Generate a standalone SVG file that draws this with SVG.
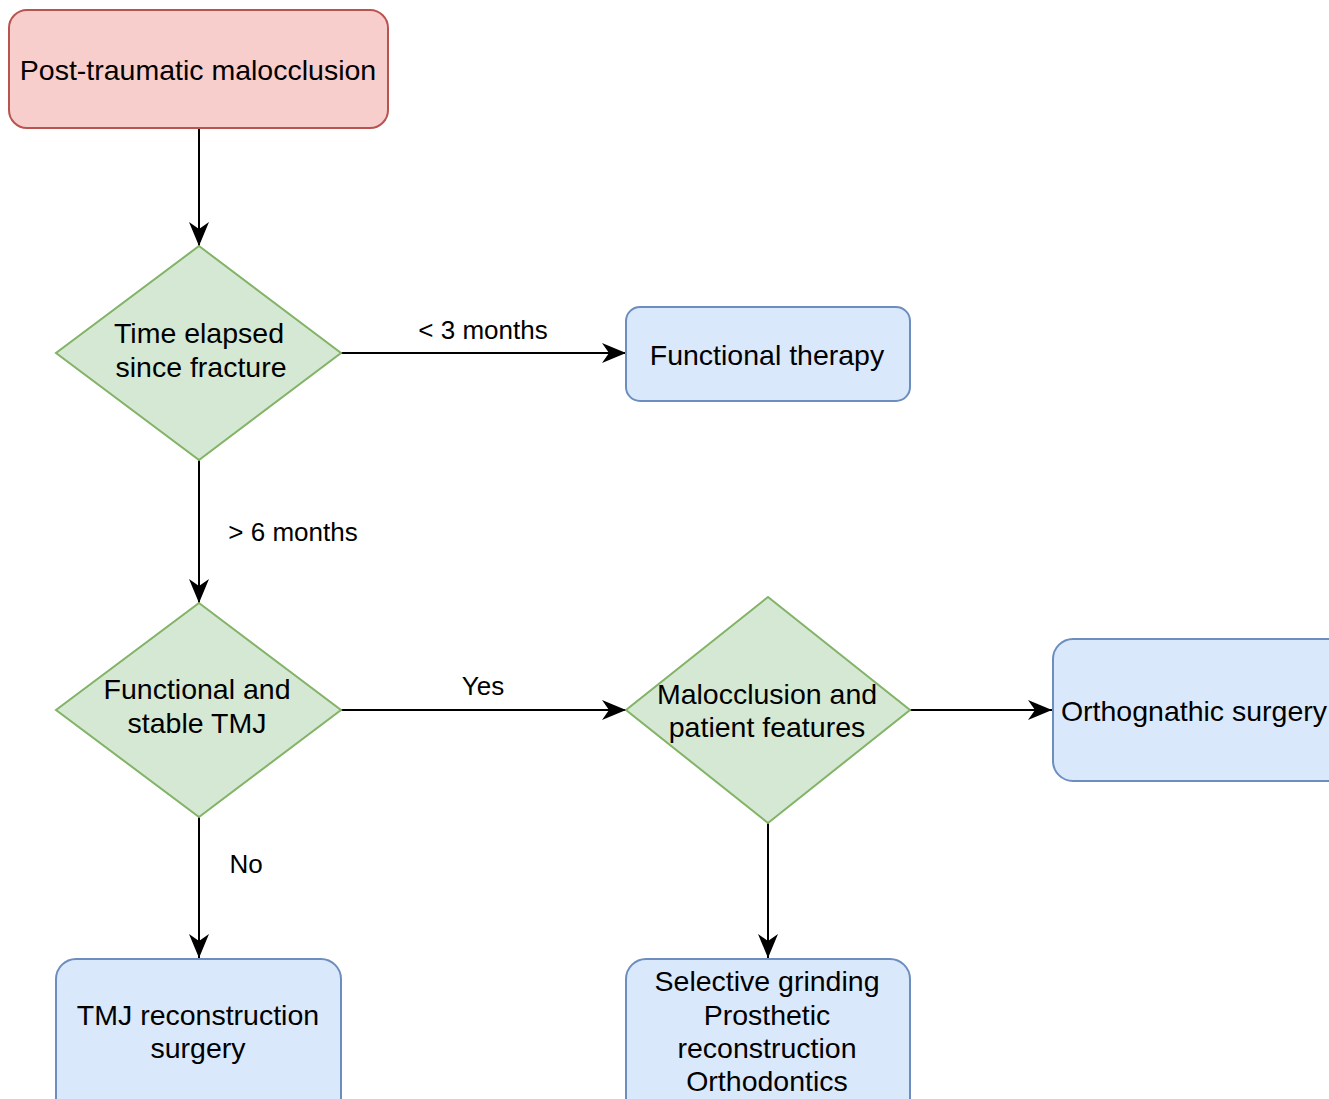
<svg xmlns="http://www.w3.org/2000/svg" width="1329" height="1099" viewBox="0 0 1329 1099">
<defs>
<style>
.red{fill:#f8cecc;stroke:#b85450;stroke-width:2}
.blue{fill:#dae8fc;stroke:#6c8ebf;stroke-width:2}
.green{fill:#d5e8d4;stroke:#82b366;stroke-width:2}
text{font-family:"Liberation Sans",Arial,sans-serif;font-size:28.5px;fill:#000;text-anchor:middle;dominant-baseline:central}
text.lbl{font-size:26px}
.edge{stroke:#000;stroke-width:2;fill:none}
</style>
<marker id="arr" viewBox="0 0 24 20" refX="24" refY="10" markerWidth="24" markerHeight="20" markerUnits="userSpaceOnUse" orient="auto">
<path d="M0,0 L24,10 L0,20 L7,10 Z" fill="#000"/>
</marker>
</defs>
<rect width="1329" height="1099" fill="#fff"/>
<g id="edges">
<line class="edge" x1="199" y1="128" x2="199" y2="246" marker-end="url(#arr)"/>
<line class="edge" x1="341" y1="353" x2="626" y2="353" marker-end="url(#arr)"/>
<line class="edge" x1="199" y1="460" x2="199" y2="603" marker-end="url(#arr)"/>
<line class="edge" x1="341" y1="710" x2="626" y2="710" marker-end="url(#arr)"/>
<line class="edge" x1="910" y1="710" x2="1052" y2="710" marker-end="url(#arr)"/>
<line class="edge" x1="199" y1="817" x2="199" y2="958" marker-end="url(#arr)"/>
<line class="edge" x1="768" y1="823" x2="768" y2="958" marker-end="url(#arr)"/>
<text class="lbl" x="483" y="330">&lt; 3 months</text>
<text class="lbl" x="293" y="532">&gt; 6 months</text>
<text class="lbl" x="483" y="686">Yes</text>
<text class="lbl" x="246" y="864">No</text>
</g>
<g id="n1">
<rect class="red" x="9" y="10" width="379" height="118" rx="18"/>
<text x="198" y="70">Post-traumatic malocclusion</text>
</g>
<g id="n2">
<polygon class="green" points="199,246 341,353 199,460 56,353"/>
<text x="199" y="333">Time elapsed</text>
<text x="201" y="367">since fracture</text>
</g>
<g id="n3">
<rect class="blue" x="626" y="307" width="284" height="94" rx="14"/>
<text x="767" y="355">Functional therapy</text>
</g>
<g id="n4">
<polygon class="green" points="199,603 341,710 199,817 56,710"/>
<text x="197" y="689">Functional and</text>
<text x="197" y="723">stable TMJ</text>
</g>
<g id="n5">
<polygon class="green" points="768,597 910,710 768,823 626,710"/>
<text x="767" y="694">Malocclusion and</text>
<text x="767" y="727">patient features</text>
</g>
<g id="n6">
<rect class="blue" x="1053" y="639" width="300" height="142" rx="20"/>
<text x="1194" y="711">Orthognathic surgery</text>
</g>
<g id="n7">
<rect class="blue" x="56" y="959" width="285" height="160" rx="20"/>
<text x="198" y="1015">TMJ reconstruction</text>
<text x="198" y="1048">surgery</text>
</g>
<g id="n8">
<rect class="blue" x="626" y="959" width="284" height="160" rx="20"/>
<text x="767" y="981">Selective grinding</text>
<text x="767" y="1015">Prosthetic</text>
<text x="767" y="1048">reconstruction</text>
<text x="767" y="1081">Orthodontics</text>
</g>
</svg>
